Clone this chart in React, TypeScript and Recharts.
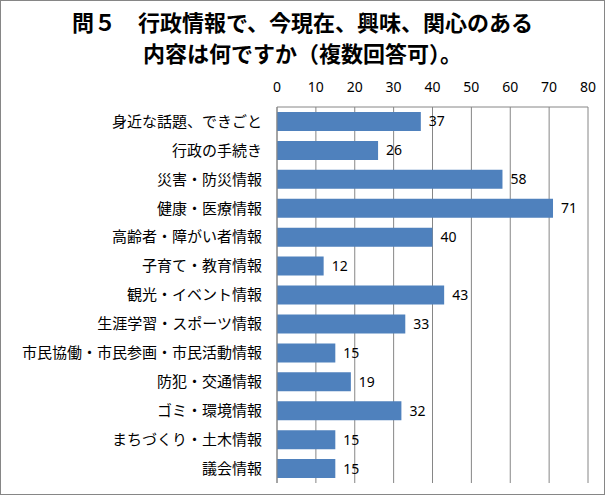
import React from 'react';
import { BarChart, Bar, XAxis, YAxis, CartesianGrid, LabelList } from 'recharts';

const categories = [
  '身近な話題、できごと',
  '行政の手続き',
  '災害・防災情報',
  '健康・医療情報',
  '高齢者・障がい者情報',
  '子育て・教育情報',
  '観光・イベント情報',
  '生涯学習・スポーツ情報',
  '市民協働・市民参画・市民活動情報',
  '防犯・交通情報',
  'ゴミ・環境情報',
  'まちづくり・土木情報',
  '議会情報',
];
const values = [37, 26, 58, 71, 40, 12, 43, 33, 15, 19, 32, 15, 15];
const xTicks = [0, 10, 20, 30, 40, 50, 60, 70, 80];
const titleLines = ['問５　行政情報で、今現在、興味、関心のある', '内容は何ですか（複数回答可）。'];

const data = categories.map((name, i) => ({ name, value: values[i] }));

const GRID = '#868686';
const JP = '"Noto Sans CJK JP", "Noto Sans", sans-serif';

export default function App() {
  return (
    <div style={{ position: 'absolute', left: 0, top: 0, width: 605, height: 495, background: '#fff' }}>
      <div
        style={{
          position: 'absolute',
          left: 0,
          top: 6,
          width: 605,
          textAlign: 'center',
          fontFamily: JP,
          fontWeight: 'bold',
          fontSize: 22,
          lineHeight: '31px',
          color: '#000',
        }}
      >
        {titleLines.map((l, i) => (
          <div key={i}>{l}</div>
        ))}
      </div>
      <BarChart
        width={605}
        height={495}
        data={data}
        layout="vertical"
        margin={{ top: 77, right: 17, bottom: 12, left: 0 }}
        barSize={19}
      >
        <CartesianGrid horizontal={false} stroke={GRID} strokeWidth={1} />
        <XAxis
          type="number"
          orientation="top"
          domain={[0, 80]}
          ticks={xTicks}
          height={30}
          axisLine={{ stroke: GRID }}
          tickLine={false}
          tickSize={0}
          tickMargin={15}
          tick={{ fill: '#000', fontSize: 14, fontFamily: '"Noto Sans", sans-serif' }}
          interval={0}
        />
        <YAxis
          type="category"
          dataKey="name"
          width={277}
          axisLine={{ stroke: GRID }}
          tickLine={false}
          tickSize={0}
          tickMargin={15}
          interval={0}
          tick={{ fill: '#000', fontSize: 15, fontFamily: JP }}
        />
        <Bar dataKey="value" fill="#4F81BD" isAnimationActive={false}>
          <LabelList
            dataKey="value"
            position="right"
            offset={8}
            fill="#000"
            fontSize={14}
            fontFamily='"Noto Sans", sans-serif'
          />
        </Bar>
      </BarChart>
      <div
        style={{
          position: 'absolute',
          left: 0,
          top: 0,
          width: 605,
          height: 495,
          boxSizing: 'border-box',
          border: '1px solid #868686',
          pointerEvents: 'none',
        }}
      />
    </div>
  );
}
